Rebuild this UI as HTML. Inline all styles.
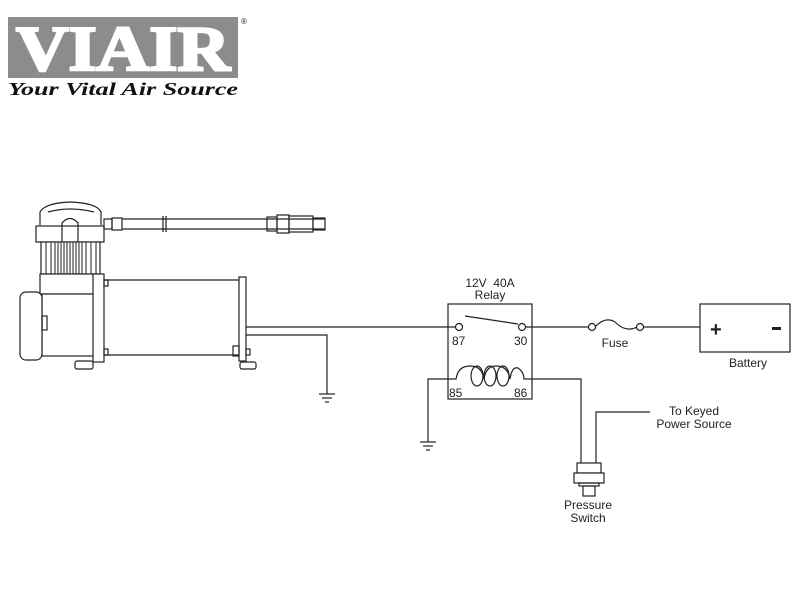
<!DOCTYPE html>
<html><head><style>
body{margin:0;background:#fff;}
svg text{font-family:"Liberation Sans",sans-serif;fill:#222;}
</style></head><body>
<svg width="800" height="599" viewBox="0 0 800 599" xmlns="http://www.w3.org/2000/svg">
<!-- Logo -->
<rect x="8" y="17" width="230" height="61" fill="#8c8c8c"/>
<text x="123" y="70" text-anchor="middle" style="font-family:'Liberation Serif',serif;font-weight:bold;font-size:64px;fill:#fff;stroke:#fff;stroke-width:2.5" textLength="214" lengthAdjust="spacingAndGlyphs">VIAIR</text>
<text x="241" y="24" style="font-size:8px">®</text>
<text x="8" y="95" style="font-family:'Liberation Serif',serif;font-weight:bold;font-style:italic;font-size:18px;fill:#111" textLength="230" lengthAdjust="spacingAndGlyphs">Your Vital Air Source</text>

<g fill="none" stroke="#222" stroke-width="1.2">
<!-- compressor head -->
<path d="M40 225 L40 212 Q45 203 70 202 Q97 203 101 212 L101 225" fill="#fff"/>
<path d="M48 212 Q70 206 94 212"/>
<rect x="36" y="226" width="68" height="16" fill="#fff"/>
<path d="M62 242 L62 223 Q70 214 78 223 L78 242"/>
<rect x="41" y="242" width="59" height="32" fill="#fff"/>
<g stroke="#444">
<line x1="46" y1="242" x2="46" y2="274"/><line x1="51" y1="242" x2="51" y2="274"/><line x1="55" y1="242" x2="55" y2="274"/><line x1="58" y1="242" x2="58" y2="274"/><line x1="61" y1="242" x2="61" y2="274"/><line x1="64" y1="242" x2="64" y2="274"/><line x1="67" y1="242" x2="67" y2="274"/><line x1="70" y1="242" x2="70" y2="274"/><line x1="73" y1="242" x2="73" y2="274"/><line x1="76" y1="242" x2="76" y2="274"/><line x1="79" y1="242" x2="79" y2="274"/><line x1="82" y1="242" x2="82" y2="274"/><line x1="86" y1="242" x2="86" y2="274"/><line x1="91" y1="242" x2="91" y2="274"/><line x1="96" y1="242" x2="96" y2="274"/>
</g>
<!-- hose -->
<rect x="104" y="219" width="8" height="10"/>
<rect x="112" y="218" width="10" height="12"/>
<line x1="122" y1="219" x2="325" y2="219"/><line x1="122" y1="229" x2="325" y2="229"/>
<line x1="163" y1="216" x2="163" y2="232"/><line x1="166" y1="216" x2="166" y2="232"/>
<rect x="267" y="217" width="10" height="14"/>
<rect x="277" y="215" width="12" height="18"/>
<rect x="289" y="216" width="24" height="16"/>
<rect x="313" y="218" width="12" height="12"/>
<!-- motor -->
<rect x="40" y="274" width="57" height="20" fill="#fff"/>
<rect x="42" y="294" width="52" height="62" fill="#fff"/>
<rect x="20" y="292" width="22" height="68" rx="6" fill="#fff"/>
<rect x="42" y="316" width="5" height="14"/>
<rect x="93" y="274" width="11" height="88" fill="#fff"/>
<line x1="104" y1="280" x2="239" y2="280"/><line x1="104" y1="355" x2="239" y2="355"/>
<rect x="239" y="277" width="7" height="84" fill="#fff"/>
<rect x="75" y="361" width="18" height="8" rx="2"/>
<rect x="240" y="362" width="16" height="7" rx="2"/>
<rect x="104" y="280" width="4" height="6"/><rect x="104" y="349" width="4" height="6"/>
<rect x="233" y="346" width="6" height="10"/><rect x="246" y="349" width="4" height="6"/>
<!-- wires -->
<line x1="246" y1="327" x2="455" y2="327"/>
<polyline points="246,335 327,335 327,394"/>
<line x1="319" y1="394" x2="335" y2="394"/><line x1="322" y1="398" x2="332" y2="398"/><line x1="325" y1="402" x2="329" y2="402"/>
<!-- relay -->
<rect x="448" y="304" width="84" height="95"/>
<circle cx="459" cy="327" r="3.5"/><circle cx="522" cy="327" r="3.5"/>
<line x1="465" y1="316" x2="518" y2="324"/>
<line x1="525" y1="327" x2="589" y2="327"/>
<circle cx="592" cy="327" r="3.5"/><circle cx="640" cy="327" r="3.5"/>
<path d="M595 327 Q605 316 615 322 Q626 333 637 327"/>
<line x1="643" y1="327" x2="700" y2="327"/>
<rect x="700" y="304" width="90" height="48"/>
<!-- coil -->
<path d="M448 379 L456 379 Q458 366 470 366 Q482 366 484 379 Q486 366 496 366 Q508 366 510 379 Q512 366 518 368 Q524 372 524 379 L532 379"/>
<ellipse cx="477" cy="376" rx="6" ry="10"/>
<ellipse cx="490" cy="376" rx="6" ry="10"/>
<ellipse cx="503" cy="376" rx="6" ry="10"/>
<polyline points="448,379 428,379 428,442"/>
<line x1="420" y1="442" x2="436" y2="442"/><line x1="423" y1="446" x2="433" y2="446"/><line x1="426" y1="450" x2="430" y2="450"/>
<polyline points="532,379 581,379 581,463"/>
<polyline points="650,412 596,412 596,463"/>
<!-- pressure switch -->
<rect x="577" y="463" width="24" height="10" fill="#fff"/>
<rect x="574" y="473" width="30" height="10" fill="#fff"/>
<rect x="579" y="483" width="20" height="3"/>
<rect x="583" y="486" width="12" height="10"/>
</g>
<rect x="448" y="366" width="84" height="0" fill="none"/>
<text x="710" y="336" style="font-size:20px;font-weight:bold">+</text>
<rect x="772" y="327" width="9" height="3" fill="#222"/>
<g style="font-size:12px">
<text x="490" y="287" text-anchor="middle" xml:space="preserve">12V  40A</text>
<text x="490" y="299" text-anchor="middle">Relay</text>
<text x="452" y="345">87</text><text x="514" y="345">30</text>
<text x="449" y="397">85</text><text x="514" y="397">86</text>
<text x="615" y="347" text-anchor="middle">Fuse</text>
<text x="748" y="367" text-anchor="middle">Battery</text>
<text x="694" y="415" text-anchor="middle">To Keyed</text>
<text x="694" y="428" text-anchor="middle">Power Source</text>
<text x="588" y="509" text-anchor="middle">Pressure</text>
<text x="588" y="522" text-anchor="middle">Switch</text>
</g>
</svg>
</body></html>
